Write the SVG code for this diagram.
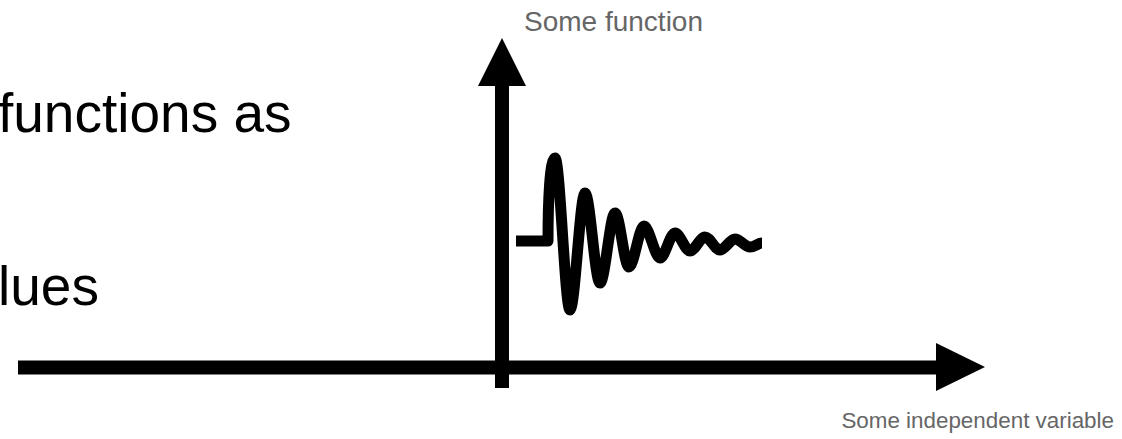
<svg xmlns="http://www.w3.org/2000/svg" width="1122" height="439" viewBox="0 0 1122 439">
  <style>
    .main { font-family: "Liberation Sans", Arial, sans-serif; font-size: 55px; fill: #000; }
    .label { font-family: "Liberation Sans", Arial, sans-serif; font-size: 22.4px; fill: #666; }
    .label-top { font-size: 28px; }
    .axis { stroke: #000; stroke-width: 14; fill: none; }
    .head { fill: #000; }
    .wave { stroke: #000; stroke-width: 11; fill: none; stroke-linejoin: round; }
  </style>
  <rect width="1122" height="439" fill="#fff"/>
  <g id="body-text">
    <text class="main" x="-2" y="132">functions as</text>
    <text class="main" x="-2" y="305">lues</text>
  </g>
  <g id="connectors">
    <g id="axis-x">
      <line class="axis" x1="18" y1="367.5" x2="938" y2="367.5"/>
      <polygon class="head" points="985,367 936,343 936,391"/>
    </g>
    <g id="axis-y">
      <line class="axis" x1="502" y1="388" x2="502" y2="84"/>
      <polygon class="head" points="502,38 478,86 526,86"/>
    </g>
  </g>
  <g id="signal">
    <path class="wave" d="M516,241 H548 C548,200 550,158 555,158 C560,158 565,310 570,310 C575,310 580,193 585,193 C590,193 595,283 600,283 C605,283 610,213 615,213 C620,213 624,267 629,267 C634,267 639,226 644,226 C649,226 655,258 660,258 C665,258 670,233 675,233 C680,233 685,251 690,251 C695,251 700,237 705,237 C710,237 715,250 720,250 C725,250 730,239 735,239 C740,239 745,247 750,247 C755,247 758,243 762,243"/>
  </g>
  <g id="label-y">
    <text class="label label-top" x="524" y="31">Some function</text>
  </g>
  <g id="label-x">
    <text class="label" x="1114" y="428" text-anchor="end">Some independent variable</text>
  </g>
</svg>
